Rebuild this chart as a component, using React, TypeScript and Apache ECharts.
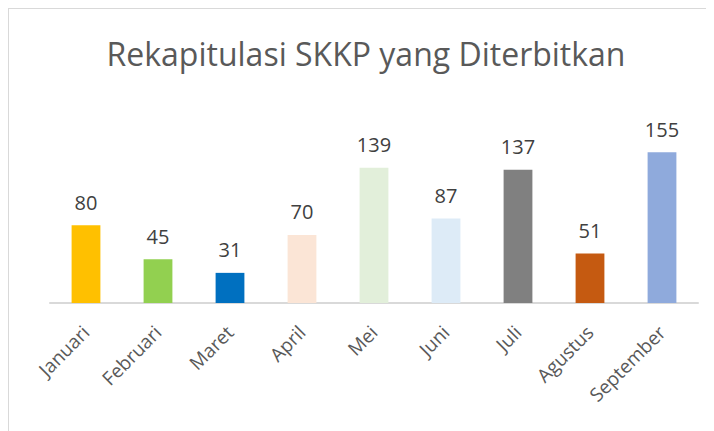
import React, { useEffect, useRef } from "react";
import * as echarts from "echarts";

const categories = ["Januari", "Februari", "Maret", "April", "Mei", "Juni", "Juli", "Agustus", "September"];
const values = [80, 45, 31, 70, 139, 87, 137, 51, 155];
const colors = ["#FFC000", "#92D050", "#0070C0", "#FBE5D6", "#E2EFDA", "#DDEBF7", "#808080", "#C55A11", "#8FAADC"];
const titleText = "Rekapitulasi SKKP yang Diterbitkan";

export default function App() {
  const ref = useRef<HTMLDivElement>(null);
  useEffect(() => {
    if (!ref.current) return;
    const chart = echarts.init(ref.current, null, { renderer: "svg" });
    chart.setOption({
      animation: false,
      title: {
        text: titleText,
        left: "center",
        top: 23,
        textStyle: { fontFamily: "Open Sans", fontSize: 32, fontWeight: "normal", color: "#595959" },
      },
      grid: { left: 41, width: 648, top: 119, height: 175 },
      xAxis: {
        type: "category",
        data: categories,
        axisLine: { lineStyle: { color: "#D9D9D9", width: 2 } },
        axisTick: { show: false },
        axisLabel: {
          rotate: 45,
          interval: 0,
          margin: 26,
          fontFamily: "Open Sans",
          fontSize: 19,
          color: "#595959",
        },
      },
      yAxis: { type: "value", min: 0, max: 180, show: false, splitLine: { show: false } },
      series: [
        {
          type: "bar",
          barWidth: "40%",
          data: values.map((v, i) => ({ value: v, itemStyle: { color: colors[i] } })),
          label: {
            show: true,
            position: "top",
            distance: 13,
            fontFamily: "Open Sans",
            fontSize: 20,
            color: "#404040",
          },
        },
      ],
    });
    return () => chart.dispose();
  }, []);
  return (
    <div
      ref={ref}
      style={{ width: 714, height: 431, border: "1px solid #D9D9D9", boxSizing: "content-box", background: "#fff" }}
    />
  );
}
